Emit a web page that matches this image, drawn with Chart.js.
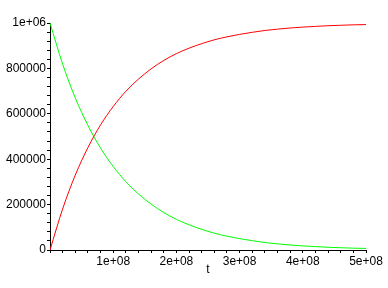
<!DOCTYPE html>
<html lang="en">
<head>
  <meta charset="UTF-8" />
  <title>t plot</title>
  <script src="https://cdn.jsdelivr.net/npm/chart.js"></script>
  <style>
    body { margin: 0; padding: 0; background: #ffffff; }
    #wrap { width: 388px; height: 288px; }
  </style>
</head>
<body>
  <div id="wrap"><canvas id="plot" width="388" height="288"></canvas></div>
  <script>
    const tValues = [0, 2e7, 4e7, 6e7, 8e7, 1e8, 1.2e8, 1.4e8, 1.6e8, 1.8e8, 2e8,
      2.2e8, 2.4e8, 2.6e8, 2.8e8, 3e8, 3.2e8, 3.4e8, 3.6e8, 3.8e8, 4e8,
      4.2e8, 4.4e8, 4.6e8, 4.8e8, 5e8];
    const greenValues = [1000000, 819000, 670000, 549000, 449000, 368000, 301000, 247000,
      202000, 165000, 135000, 111000, 91000, 74000, 61000, 50000, 41000, 33000,
      27000, 22000, 18000, 15000, 12000, 10000, 8000, 7000];
    const redValues = [0, 181000, 330000, 451000, 551000, 632000, 699000, 753000,
      798000, 835000, 865000, 889000, 909000, 926000, 939000, 950000, 959000, 967000,
      973000, 978000, 982000, 985000, 988000, 990000, 992000, 993000];
    const yLabels = ['0', '200000', '400000', '600000', '800000', '1e+06'];
    const xLabels = ['', '1e+08', '2e+08', '3e+08', '4e+08', '5e+08'];

    const pts = vals => tValues.map((t, i) => ({ x: t, y: vals[i] }));
    const font = { family: 'Liberation Sans, Arial, sans-serif', size: 12 };

    new Chart(document.getElementById('plot').getContext('2d'), {
      type: 'line',
      data: {
        datasets: [
          { data: pts(redValues), borderColor: '#ff0000', borderWidth: 1, pointRadius: 0, tension: 0.4, cubicInterpolationMode: 'monotone' },
          { data: pts(greenValues), borderColor: '#00ff00', borderWidth: 1, pointRadius: 0, tension: 0.4, cubicInterpolationMode: 'monotone' }
        ]
      },
      options: {
        responsive: false,
        animation: false,
        layout: { padding: { top: 23, right: 22, left: 0, bottom: 0 } },
        plugins: { legend: { display: false }, tooltip: { enabled: false } },
        scales: {
          x: {
            type: 'linear', min: 0, max: 5e8,
            grid: { drawOnChartArea: false, tickLength: 3, color: '#000' },
            border: { color: '#000', width: 1 },
            ticks: {
              stepSize: 2e7, autoSkip: false, maxRotation: 0, color: '#000', font: font, padding: 1,
              callback: v => (v % 1e8 === 0 ? xLabels[v / 1e8] : '')
            },
            title: { display: true, text: 't', color: '#000', font: font, padding: { top: 0, bottom: 11 } },
            afterFit: s => { s.height = 38; }
          },
          y: {
            min: 0, max: 1000000,
            grid: { drawOnChartArea: false, tickLength: 3, color: '#000' },
            border: { color: '#000', width: 1 },
            ticks: {
              stepSize: 40000, autoSkip: false, color: '#000', font: font, padding: 1,
              callback: v => (v % 200000 === 0 ? yLabels[v / 200000] : '')
            },
            afterFit: s => { s.width = 50; }
          }
        }
      }
    });
  </script>
</body>
</html>
